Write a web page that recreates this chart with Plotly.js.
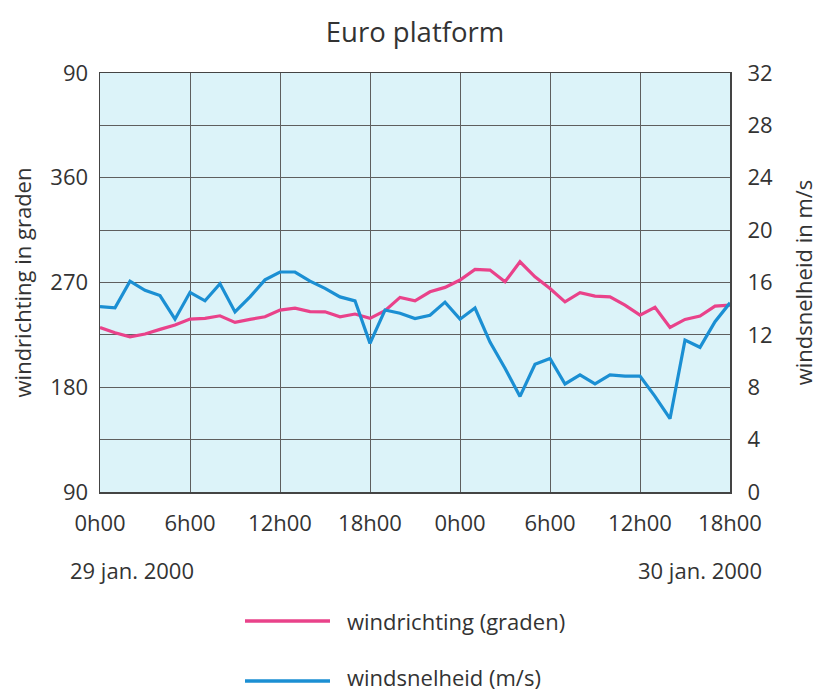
<!DOCTYPE html>
<html>
<head>
<meta charset="utf-8">
<script src="https://cdn.plot.ly/plotly-3.0.1.min.js"></script>
<style>html,body{margin:0;padding:0;background:#fff;}#chart{width:818px;height:692px;}</style>
</head>
<body>
<div id="chart"></div>
<script>
// hours since 29 jan. 2000 0h00
const hours = [0,1,2,3,4,5,6,7,8,9,10,11,12,13,14,15,16,17,18,19,20,21,22,23,24,25,26,27,28,29,30,31,32,33,34,35,36,37,38,39,40,41,42];
// wind direction (degrees, plotted on 90..450 scale)
const windrichting = [231.4,226.8,223.4,225.7,229.7,233.4,238.6,239.2,241.4,235.7,238.3,240.5,246.3,248.0,245.0,244.8,240.5,242.9,239.2,245.7,257.2,254.3,262.0,265.8,272.1,281.3,280.7,270.6,287.8,274.9,264.9,253.4,261.2,258.3,257.7,250.6,242.0,248.6,231.4,238.3,241.2,249.7,250.6];
// wind speed (m/s)
const windsnelheid = [14.15,14.07,16.1,15.4,15.0,13.2,15.25,14.6,15.9,13.75,14.9,16.2,16.8,16.8,16.1,15.55,14.9,14.6,11.35,13.9,13.65,13.25,13.5,14.5,13.2,14.05,11.45,9.45,7.3,9.75,10.2,8.25,8.95,8.25,8.95,8.85,8.85,7.3,5.6,11.6,11.05,13.0,14.45];
const xTickVals = [0,6,12,18,24,30,36,42];
const xTickText = ['0h00','6h00','12h00','18h00','0h00','6h00','12h00','18h00'];
const yTickVals = [90,135,180,225,270,315,360,405,450];
const yTickText = ['90','','180','','270','','360','','90'];
const y2TickVals = [0,4,8,12,16,20,24,28,32];
const dateLabels = ['29 jan. 2000','30 jan. 2000'];
const legendNames = ['windrichting (graden)','windsnelheid (m/s)'];

const pink = '#e9428a';
const blue = '#1b8fd3';
const txt = '#333333';
const font = '"Open Sans", "Noto Sans", sans-serif';

const traces = [
  {x: hours, y: windrichting, type: 'scatter', mode: 'lines', name: legendNames[0],
   line: {color: pink, width: 3.2}, yaxis: 'y', showlegend: false},
  {x: hours, y: windsnelheid, type: 'scatter', mode: 'lines', name: legendNames[1],
   line: {color: blue, width: 3.2}, yaxis: 'y2', showlegend: false}
];

const pyToPaper = py => (492 - py) / 419;
const pxToPaper = px => (px - 100) / 630;

const layout = {
  width: 818, height: 692,
  margin: {l: 100, r: 88, t: 73, b: 200},
  paper_bgcolor: '#ffffff',
  plot_bgcolor: '#dcf3f9',
  font: {family: font, color: txt, size: 22},
  title: {text: 'Euro platform', font: {size: 27.5, color: txt, family: font},
          x: 0.5, xref: 'paper', xanchor: 'center', y: 1 - 32/692, yanchor: 'middle'},
  xaxis: {range: [0, 42], tickvals: xTickVals, ticktext: xTickText,
          showgrid: true, gridcolor: '#5e5e5e', gridwidth: 1,
          showline: true, linecolor: '#444', linewidth: 1.5, mirror: true,
          ticks: 'outside', ticklen: 11, tickcolor: 'rgba(0,0,0,0)',
          tickfont: {size: 22, color: txt}, zeroline: false, fixedrange: true},
  yaxis: {range: [90, 450], tickvals: yTickVals, ticktext: yTickText,
          showgrid: true, gridcolor: '#5e5e5e', gridwidth: 1,
          showline: true, linecolor: '#444', linewidth: 1.5, mirror: true,
          ticks: 'outside', ticklen: 6, tickcolor: 'rgba(0,0,0,0)',
          tickfont: {size: 22, color: txt}, zeroline: false,
          title: {text: 'windrichting in graden', font: {size: 22, color: txt}, standoff: 12}},
  yaxis2: {range: [0, 32], tickvals: y2TickVals, overlaying: 'y', side: 'right',
           showgrid: false, zeroline: false, showline: false,
           ticks: 'outside', ticklen: 12, tickcolor: 'rgba(0,0,0,0)',
           tickfont: {size: 22, color: txt},
           title: {text: 'windsnelheid in m/s', font: {size: 22, color: txt}, standoff: 26}},
  annotations: [
    {text: dateLabels[0], xref: 'paper', yref: 'paper', x: pxToPaper(68), y: pyToPaper(570),
     xanchor: 'left', yanchor: 'middle', showarrow: false, font: {size: 22, color: txt}},
    {text: dateLabels[1], xref: 'paper', yref: 'paper', x: pxToPaper(764), y: pyToPaper(570),
     xanchor: 'right', yanchor: 'middle', showarrow: false, font: {size: 22, color: txt}},
    {text: legendNames[0], xref: 'paper', yref: 'paper', x: pxToPaper(345), y: pyToPaper(621),
     xanchor: 'left', yanchor: 'middle', showarrow: false, font: {size: 22, color: txt}},
    {text: legendNames[1], xref: 'paper', yref: 'paper', x: pxToPaper(345), y: pyToPaper(677),
     xanchor: 'left', yanchor: 'middle', showarrow: false, font: {size: 22, color: txt}}
  ],
  shapes: [
    {type: 'line', xref: 'paper', yref: 'paper', x0: pxToPaper(245), x1: pxToPaper(330),
     y0: pyToPaper(621), y1: pyToPaper(621), line: {color: pink, width: 3.5}},
    {type: 'line', xref: 'paper', yref: 'paper', x0: pxToPaper(245), x1: pxToPaper(330),
     y0: pyToPaper(681), y1: pyToPaper(681), line: {color: blue, width: 3.5}}
  ],
  showlegend: false
};

Plotly.newPlot('chart', traces, layout, {displayModeBar: false, staticPlot: true});
</script>
</body>
</html>
